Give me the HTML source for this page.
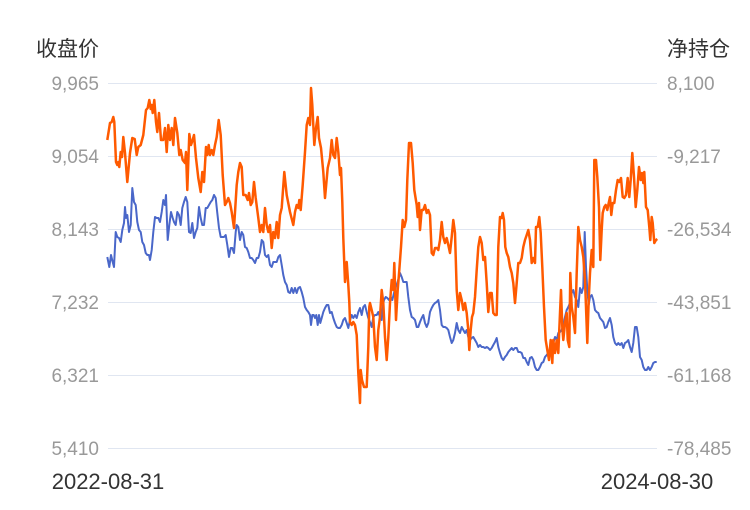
<!DOCTYPE html>
<html><head><meta charset="utf-8"><style>
html,body{margin:0;padding:0;background:#fff;}
svg{display:block;}
text{font-family:"Liberation Sans","Noto Sans CJK SC",sans-serif;}
</style></head><body>
<svg width="750" height="510" viewBox="0 0 750 510" xmlns="http://www.w3.org/2000/svg">
<rect width="750" height="510" fill="#fff"/>
<g stroke="#e0e6f1" stroke-width="1">
<line x1="108" y1="83.5" x2="657" y2="83.5"/>
<line x1="108" y1="156.5" x2="657" y2="156.5"/>
<line x1="108" y1="229.5" x2="657" y2="229.5"/>
<line x1="108" y1="302.5" x2="657" y2="302.5"/>
<line x1="108" y1="375.5" x2="657" y2="375.5"/>
<line x1="108" y1="448.5" x2="657" y2="448.5"/>
</g>
<text x="99" y="56" font-size="21" fill="#333" text-anchor="end">收盘价</text>
<text x="667" y="56" font-size="21" fill="#333">净持仓</text>
<g font-size="19" fill="#999" text-anchor="end">
<text x="99" y="90">9,965</text>
<text x="99" y="163">9,054</text>
<text x="99" y="236">8,143</text>
<text x="99" y="309">7,232</text>
<text x="99" y="382">6,321</text>
<text x="99" y="455">5,410</text>
</g>
<g font-size="19" fill="#999">
<text x="667" y="90">8,100</text>
<text x="667" y="163">-9,217</text>
<text x="667" y="236">-26,534</text>
<text x="667" y="309">-43,851</text>
<text x="667" y="382">-61,168</text>
<text x="667" y="455">-78,485</text>
</g>
<g font-size="22" fill="#333" text-anchor="middle">
<text x="108" y="489">2022-08-31</text>
<text x="657" y="489">2024-08-30</text>
</g>
<polyline fill="none" stroke="#4a67c9" stroke-width="2" stroke-linejoin="round" points="107.3,257 109.3,267 111,255 112.7,262 114,267 115.7,232 117.3,237 119,238 120.7,242 122.3,230 124,223 125,207 126,218 127.3,215 129,232 130.7,225 132.3,188 134,202 135.7,205 137.3,222 139,230 140.7,232 142.3,242 144,245 145.7,253 147.3,255 149,255 150,260 151.7,250 153.3,232 155,217 156.7,218 158.3,218 160,222 161.7,212 163.3,200 165,205 166,195 167.7,240 169.3,225 171,212 172.7,218 174,222 175.7,225 177.3,212 179,215 180.7,225 182.3,208 184,202 185.7,197 187.3,202 189,232 190.7,233 192.3,223 194,238 195.7,232 197.3,228 199,207 200.7,218 202.3,225 204,225 205.7,208 207.3,208 209,205 210.7,202 212.3,200 214,195 215.7,198 217.3,213 219,228 220.7,237 222.3,237 224,237 225.7,235 227.3,245 229,257 230.7,248 232.3,248 234,253 235.7,232 236.7,225 238.3,227 240,240 241.7,232 243.3,235 245,247 246.7,248 248.3,252 250,258 251.7,258 253.3,260 255,263 256.7,258 258.3,258 260,252 261.7,240 263.3,242 265,255 266.7,257 268.3,255 270,265 271.7,267 273.3,262 275,262 276.7,262 278.3,257 280,255 281.7,265 283.3,275 285,282 286.7,285 288.3,292 290,293 291.7,288 293.3,293 295,288 296.7,293 298.3,288 300,287 301.7,292 303.3,298 305,307 306.7,310 308.3,312 310,315 311,325 312.3,315 313.7,315 315,318 316.3,315 317.7,325 319,315 320.3,323 321.7,318 323.3,312 325,308 326.7,305 328.3,305 330,313 331.7,312 333.3,318 335,323 336.7,327 338.3,328 340,328 341.7,325 343.3,320 345,318 346.7,323 348.3,328 350,320 351.7,315 353.3,318 355,315 356.7,318 358.3,312 360,308 361.7,315 363.3,307 365,305 366.7,312 368.3,318 370,322 371.7,327 373.3,317 375,315 376.7,315 378.3,312 380,317 381.7,320 382.7,307 384,300 385.7,297 387.3,298 389,300 390.7,297 392.3,300 394,293 395.7,287 397.3,283 399,277 400,273 401.7,277 403.3,282 405,282 406.7,282 408.3,297 410,310 411.7,317 413.3,318 415,320 416.7,327 418.3,327 420,322 421.7,318 423.3,315 425,323 426.7,327 428.3,323 430,312 431.7,308 433.3,305 435,303 436.7,302 438.3,300 440,310 441.7,325 443.3,327 445,327 446.7,328 448.3,330 450,337 451.7,343 453.3,340 455,333 456.7,323 458.3,330 460,333 461.7,327 463.3,330 465,333 466.7,330 468.3,337 470,340 471.7,338 473.3,337 475,340 476.7,343 478.3,347 480,345 481.7,347 483.3,347 485,348 486.7,347 488.3,348 490,350 491.7,348 493.3,345 495,342 496.7,338 498.3,347 500,353 501.7,358 503.3,360 505,357 506.7,355 508.3,352 510,350 511.7,348 513.3,350 515,348 516.7,348 518.3,352 520,352 521.7,353 523.3,358 525,358 526.7,362 528.3,365 530,358 531.7,357 533.3,360 535,367 536.7,370 538.3,370 540,367 541.7,363 543.3,362 545,357 546.7,355 548.3,353 550,352 551.7,347 553.3,343 555,337 556.7,340 558.3,333 560,332 561.7,330 563.3,325 565,317 566.7,310 568.3,307 570,303 571.7,293 573.3,290 575,297 576.7,300 578.3,307 580,288 581.7,293 583.3,287 584.7,232 586,267 587.3,290 588.7,305 590,297 591.7,295 593.3,300 595,310 596.7,312 598.3,313 600,318 601.7,320 603.3,322 605,328 606.7,327 608.3,322 610,318 611.7,325 613.3,337 615,343 616.7,345 618.3,343 620,345 621.7,343 623.3,348 625,343 626.7,342 628.3,340 630,347 631.7,352 633.3,343 635,327 636.7,327 638.3,337 640,357 641.7,360 643.3,367 645,370 646.7,370 648.3,367 650,370 651.7,367 653.3,363 655,362 656.7,362"/>
<polyline fill="none" stroke="#ff5a00" stroke-width="2.5" stroke-linejoin="round" points="107.3,140 110,123 111.7,122 113.3,117 114.3,122 116,162 117.3,165 118.3,162 119.3,167 120.7,152 122,157 123.3,137 125,153 127.3,182 130,153 132.3,138 134.7,139 136.7,155 138.3,147 140.7,145 143.3,135 146,110 147.7,108 149.3,100 150.7,109 151.7,105 152.7,113 154.3,100 156,122 157.3,132 159,113 161,140 163.3,140 165,128 166.7,152 168.3,125 170,140 171.7,128 173.3,145 175,118 177.3,133 179.3,155 180.7,150 182.7,160 185,163 186,152 187.3,190 189.3,134 191,145 192.7,140 194,135 196,158 198.3,178 200.7,192 202.3,172 204,182 206,147 207.3,155 208.7,145 210,155 211.7,150 213.3,155 215,145 216.7,137 218.7,120 220.7,135 222.7,175 225,205 226.7,202 228.3,198 230,203 231.7,212 234,228 236.7,185 238.3,172 240,163 241.7,167 243.3,195 245.7,195 247.7,200 249,193 250.7,205 252.3,202 254,182 255.7,198 257,208 258.3,218 260,232 261.7,225 263.3,232 265,208 266.7,225 268.3,232 270,225 271.7,248 273.3,232 275,238 276.7,222 278.3,238 280,215 281.7,208 284.3,172 286.7,195 290,212 293.3,225 295,212 296.7,205 298.3,208 299.3,200 300.7,210 302.7,185 305,152 306.7,125 308.3,118 310,125 311,88 312.3,105 314.3,145 316,128 317.7,117 319,138 321,148 323.3,172 325,198 327.7,168 330,158 331.7,140 333.3,155 335,158 336.7,138 338.3,152 340,175 341,168 342.3,202 343.3,238 345,282 346.7,262 348.3,285 349.3,302 350,322 351.7,325 353.3,322 355,325 356.7,335 358.3,373 360,403 360.7,370 362,380 364,387 366.7,387 368.3,347 369.3,307 370,303 371.7,310 373.3,317 375,347 376.7,360 378.3,330 380,317 381.7,290 383.3,303 385,337 386.7,360 388.3,337 390,303 391.7,280 393.3,290 394.3,263 396,320 397.7,290 399.3,270 401,247 402.7,220 404.3,227 406,220 407.3,180 409,143 411,143 412.7,163 414.3,190 416.7,205 417.7,217 419,203 420,230 421.7,210 423.3,210 425,205 426.7,213 428.3,210 430,215 431.7,253 433.3,255 435,248 436.7,248 438.3,250 440,240 441.7,222 443.3,237 445,243 446.7,238 448.3,245 450,253 451.7,237 453.3,220 455,233 456.7,290 458.3,310 460,293 461.7,300 463.3,310 465,303 466.7,313 468.3,330 469.3,350 470.7,330 472,317 473.3,313 475,297 476.7,270 478.3,247 480,237 481.7,243 483.3,260 485,257 486.7,283 488.3,312 490,293 491.7,293 493.3,313 495,315 496.7,315 498.3,247 500,217 501.7,218 502.7,213 504,220 505.3,247 506.7,253 508.3,257 510,267 511.7,273 513.3,283 515,303 516.7,283 518.3,263 520,263 521.7,258 523.3,247 525,240 526.7,235 528.3,230 530,240 531.7,263 533.3,258 535,263 536,227 537.7,227 539.3,217 540.7,233 542.3,267 544,307 545.7,340 547.3,350 549,360 550.7,340 552.3,363 553.3,340 555,353 556.7,340 558.3,353 560,313 561,290 562.3,327 563.3,340 565,323 566.7,313 567.7,340 569.3,347 570.3,273 571.7,307 573.3,317 575,333 576.7,273 578.3,227 580,240 581.7,247 583.3,257 585,280 586,307 587.3,343 588.7,300 590,273 591.7,250 593.3,267 594.3,160 596,160 597.3,177 599,207 600.3,260 601.7,230 602.7,213 604.3,207 605.7,205 607.3,210 608.7,203 610,197 611.3,215 612.7,203 614.3,203 616,190 617.7,180 619.3,182 621,178 622.7,197 624.3,198 626,195 627.7,178 629.3,197 630.7,180 632.3,153 634,177 635.7,207 637.3,190 639,167 640.7,180 642,173 643.3,183 644.3,172 646,207 647.7,210 649.3,227 650.3,240 651.7,217 652.7,223 654.3,243 656,240 657.3,239"/>
</svg>
</body></html>
